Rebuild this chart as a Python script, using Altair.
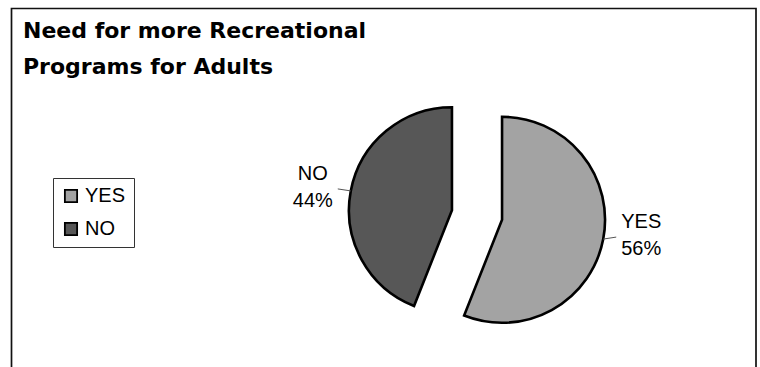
import altair as alt
import pandas as pd

# Survey answers and their shares (percent)
categories = ["YES", "NO"]
percents = [56, 44]
fills = ["#a3a3a3", "#575757"]
title_lines = ["Need for more Recreational", "Programs for Adults"]

# Pie geometry (pixels)
CX, CY = 477, 215
R = 103
EXPLODE = 25.5

df = pd.DataFrame({"answer": categories, "pct": percents, "order": list(range(len(categories)))})

base = (
    alt.Chart(df)
    .transform_window(cum="sum(pct)", sort=[alt.SortField("order")], frame=[None, 0])
    .transform_calculate(a0="(datum.cum - datum.pct) / 100 * 2 * PI")
    .transform_calculate(a1="datum.cum / 100 * 2 * PI")
    .transform_calculate(mid="(datum.a0 + datum.a1) / 2")
    .transform_calculate(cx=f"{CX} + {EXPLODE} * sin(datum.mid)")
    .transform_calculate(cy=f"{CY} - {EXPLODE} * cos(datum.mid)")
    .transform_calculate(ex=f"datum.cx + {R} * sin(datum.mid)")
    .transform_calculate(ey=f"datum.cy - {R} * cos(datum.mid)")
    .transform_calculate(side="sin(datum.mid) >= 0 ? 1 : -1")
    .transform_calculate(tx="datum.ex + datum.side * 13")
    .transform_calculate(ty="datum.ey - 2")
    .transform_calculate(lx="datum.ex + datum.side * 38")
    .transform_calculate(ly="datum.ey - 17")
    .transform_calculate(label="datum.answer + '\\n' + datum.pct + '%'")
)

legend = alt.Legend(
    title=None,
    orient="none",
    legendX=53,
    legendY=178,
    symbolType="square",
    symbolSize=150,
    symbolStrokeColor="black",
    symbolStrokeWidth=1.8,
    labelFont="Liberation Sans",
    labelFontSize=20,
    labelColor="black",
    labelOffset=4,
    rowPadding=13,
    padding=8,
    strokeColor="#333333",
    fillColor="white",
)

slices = base.mark_arc(outerRadius=R, stroke="black", strokeWidth=2.6).encode(
    theta=alt.Theta("a0:Q", scale=None, stack=None),
    theta2="a1:Q",
    x=alt.X("cx:Q", scale=None, axis=None),
    y=alt.Y("cy:Q", scale=None, axis=None),
    color=alt.Color("answer:N", scale=alt.Scale(domain=categories, range=fills), legend=legend),
)

leaders = base.mark_rule(color="#555555", strokeWidth=1).encode(
    x=alt.X("ex:Q", scale=None, axis=None),
    y=alt.Y("ey:Q", scale=None, axis=None),
    x2="tx:Q",
    y2="ty:Q",
)

labels = base.mark_text(
    font="Liberation Sans",
    fontSize=20,
    lineBreak="\n",
    lineHeight=27,
    align="center",
    baseline="middle",
    color="black",
).encode(
    x=alt.X("lx:Q", scale=None, axis=None),
    y=alt.Y("ly:Q", scale=None, axis=None),
    text="label:N",
)

title = alt.Chart(pd.DataFrame({"t": ["\n".join(title_lines)]})).mark_text(
    align="left",
    baseline="alphabetic",
    font="DejaVu Sans",
    fontWeight="bold",
    fontSize=22,
    lineBreak="\n",
    lineHeight=36,
    color="black",
).encode(x=alt.value(23), y=alt.value(38), text="t:N")

frame = alt.Chart(pd.DataFrame({"k": [0]})).mark_rect(
    fill="transparent", stroke="#111111", strokeWidth=1.7
).encode(x=alt.value(11.5), x2=alt.value(756), y=alt.value(8.5), y2=alt.value(420))

chart = (
    alt.layer(frame, slices, leaders, labels, title)
    .properties(width=760, height=367, autosize=alt.AutoSizeParams(type="none"), padding=0)
    .configure_view(stroke=None)
)

chart.save("out.html", embed_options={"renderer": "svg", "actions": False})
